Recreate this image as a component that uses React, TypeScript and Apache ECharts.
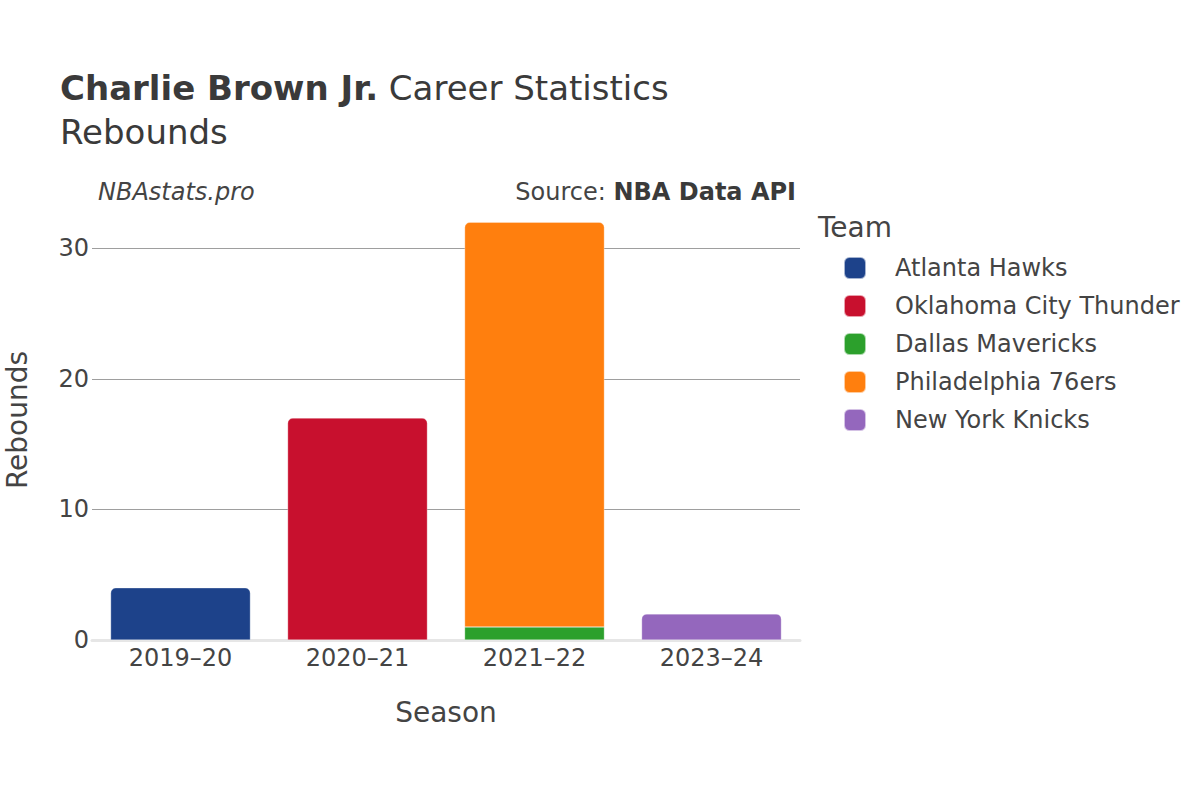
import React, { useEffect, useRef } from "react";
import * as echarts from "echarts";

const seasons = ["2019–20", "2020–21", "2021–22", "2023–24"];
const teams = [
  "Atlanta Hawks",
  "Oklahoma City Thunder",
  "Dallas Mavericks",
  "Philadelphia 76ers",
  "New York Knicks",
];
const teamColors = ["#1d428a", "#c8102e", "#2ca02c", "#ff7f0e", "#9467bd"];
const atlanta = [4, null, null, null];
const okc = [null, 17, null, null];
const dallas = [null, null, 1, null];
const philly = [null, null, 31, null];
const knicks = [null, null, null, 2];
const teamValues = [atlanta, okc, dallas, philly, knicks];
const yTicks = [0, 10, 20, 30];

const FONT = "DejaVu Sans";

export default function App() {
  const ref = useRef<HTMLDivElement>(null);
  useEffect(() => {
    document.body.style.margin = "0";
    const chart = echarts.init(ref.current!, null, { renderer: "svg" });
    const series = teams.map((t, i) => ({
      name: t,
      type: "bar",
      stack: "total",
      data: teamValues[i].map((v) => (v === null ? "-" : v)),
      barCategoryGap: "21%",
      itemStyle: {
        color: teamColors[i],
        borderRadius: i === 2 ? 0 : [5, 5, 0, 0],
        borderColor: "rgba(255,255,255,0.6)",
        borderWidth: 0.5,
      },
    }));
    chart.setOption({
      animation: false,
      textStyle: { fontFamily: FONT },
      grid: {
        left: 92,
        right: 400,
        top: 200,
        bottom: 160,
        containLabel: false,
        outerBoundsMode: "none",
      },
      xAxis: {
        type: "category",
        data: seasons,
        axisLine: { show: true, lineStyle: { color: "#e6e6e6", width: 3 } },
        axisTick: { show: false },
        axisLabel: { color: "#444", fontSize: 24, fontFamily: FONT, margin: 6 },
        name: "Season",
        nameLocation: "middle",
        nameGap: 58,
        nameTextStyle: { color: "#444", fontSize: 28, fontFamily: FONT },
      },
      yAxis: {
        type: "value",
        min: 0,
        max: 33.7,
        interval: 10,
        axisLine: { show: false },
        axisTick: { show: false },
        axisLabel: {
          color: "#444",
          fontSize: 24,
          fontFamily: FONT,
          margin: 3,
          formatter: (v: number) => (yTicks.includes(v) ? String(v) : ""),
        },
        splitLine: {
          lineStyle: {
            color: ["#9e9e9e", "#9e9e9e", "#9e9e9e", "#9e9e9e", "rgba(0,0,0,0)"],
            width: 1,
          },
        },
        name: "Rebounds",
        nameLocation: "middle",
        nameGap: 61,
        nameTextStyle: { color: "#444", fontSize: 28, fontFamily: FONT },
      },
      legend: {
        orient: "vertical",
        left: 843,
        top: 256,
        padding: 0,
        itemWidth: 22,
        itemHeight: 22,
        itemGap: 14,
        icon: "roundRect",
        data: teams,
        textStyle: {
          color: "#444",
          fontSize: 24,
          lineHeight: 22,
          fontFamily: FONT,
          padding: [0, 0, 0, 24],
        },
      },
      graphic: [
        {
          type: "text",
          left: 60,
          top: 71,
          style: {
            text: "{b|Charlie Brown Jr.}{n| Career Statistics}",
            rich: {
              b: { fontSize: 34, fontWeight: "bold", fill: "#3a3a3a", fontFamily: FONT },
              n: { fontSize: 34, fill: "#3a3a3a", fontFamily: FONT },
            },
          },
        },
        {
          type: "text",
          left: 60,
          top: 115,
          style: { text: "Rebounds", fontSize: 34, fill: "#3a3a3a", fontFamily: FONT },
        },
        {
          type: "text",
          left: 98,
          top: 180,
          style: { text: "NBAstats.pro", fontSize: 24, fontStyle: "italic", fill: "#444", fontFamily: FONT },
        },
        {
          type: "text",
          right: 404,
          top: 180,
          style: {
            text: "{n|Source: }{b|NBA Data API}",
            rich: {
              n: { fontSize: 24, fill: "#444", fontFamily: FONT },
              b: { fontSize: 24, fontWeight: "bold", fill: "#3a3a3a", fontFamily: FONT },
            },
          },
        },
        {
          type: "text",
          left: 818,
          top: 213,
          style: { text: "Team", fontSize: 28, fill: "#444", fontFamily: FONT },
        },
      ],
      series,
    });
    return () => chart.dispose();
  }, []);
  return <div ref={ref} style={{ width: 1200, height: 800 }} />;
}
